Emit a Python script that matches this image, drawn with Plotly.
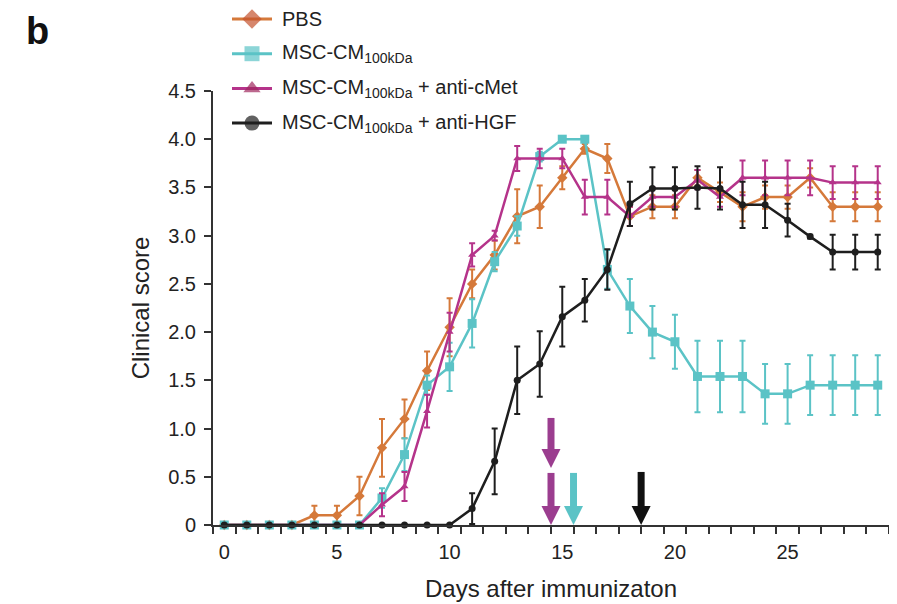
import plotly.graph_objects as go

days = list(range(30))

pbs = [0, 0, 0, 0, 0.1, 0.1, 0.3, 0.8, 1.1, 1.6, 2.05, 2.5, 2.8, 3.2, 3.3,
       3.6, 3.9, 3.8, 3.2, 3.3, 3.3, 3.6, 3.45, 3.3, 3.4, 3.4, 3.6, 3.3, 3.3, 3.3]
pbs_err = [0, 0, 0, 0, 0.1, 0.1, 0.2, 0.3, 0.2, 0.2, 0.3, 0.15, 0.15, 0.28, 0.22,
           0.12, 0.05, 0.15, 0.1, 0.12, 0.12, 0.08, 0.1, 0.15, 0.12, 0.12, 0.1, 0.15, 0.15, 0.15]

msc = [0, 0, 0, 0, 0, 0, 0, 0.28, 0.73, 1.45, 1.64, 2.09, 2.73, 3.1, 3.82,
       4.0, 4.0, 2.65, 2.27, 2.0, 1.9, 1.54, 1.54, 1.54, 1.36, 1.36, 1.45, 1.45, 1.45, 1.45]
msc_err = [0, 0, 0, 0, 0, 0, 0, 0.1, 0.17, 0.1, 0.25, 0.25, 0.1, 0.1, 0.05,
           0.02, 0.02, 0.2, 0.28, 0.27, 0.28, 0.37, 0.37, 0.37, 0.31, 0.31, 0.31, 0.31, 0.31, 0.31]

cmet = [0, 0, 0, 0, 0, 0, 0, 0.21, 0.4, 1.18, 2.0, 2.8, 3.0, 3.8, 3.8,
        3.8, 3.4, 3.4, 3.2, 3.4, 3.4, 3.58, 3.4, 3.6, 3.6, 3.6, 3.6, 3.55, 3.55, 3.55]
cmet_err = [0, 0, 0, 0, 0, 0, 0, 0.12, 0.15, 0.17, 0.2, 0.12, 0.05, 0.13, 0.1,
            0.1, 0.18, 0.18, 0.1, 0.1, 0.1, 0.1, 0.1, 0.18, 0.18, 0.18, 0.18, 0.17, 0.17, 0.17]

hgf = [0, 0, 0, 0, 0, 0, 0, 0, 0, 0, 0, 0.17, 0.66, 1.5, 1.67,
       2.16, 2.33, 2.65, 3.33, 3.49, 3.49, 3.5, 3.49, 3.32, 3.32, 3.16, 2.99, 2.83, 2.83, 2.83]
hgf_err = [0, 0, 0, 0, 0, 0, 0, 0, 0, 0, 0, 0.16, 0.34, 0.35, 0.34,
           0.31, 0.22, 0.21, 0.23, 0.22, 0.22, 0.22, 0.22, 0.24, 0.24, 0.17, 0.02, 0.18, 0.18, 0.18]

# treatment arrows: x position, top, tip, colour
arrow_x = [14.5, 14.5, 15.5, 18.5]
arrow_top = [1.11, 0.54, 0.54, 0.55]
arrow_tip = [0.59, 0.0, 0.0, 0.0]
arrow_col = ['#9B3D8F', '#9B3D8F', '#5BC3C6', '#111111']

names = ['PBS', 'MSC-CM<sub>100kDa</sub>', 'MSC-CM<sub>100kDa</sub> + anti-cMet',
         'MSC-CM<sub>100kDa</sub> + anti-HGF']
values = [pbs, msc, cmet, hgf]
errors = [pbs_err, msc_err, cmet_err, hgf_err]
line_cols = ['#D5793A', '#5BC3C6', '#B5338A', '#1E1E1E']
legend_marker_cols = ['#C4522E', '#5BC3C6', '#A0285E', '#1E1E1E']
symbols = ['diamond', 'square', 'triangle-up', 'circle']
sizes = [8, 9, 7, 7]
legend_rows = [0, 1, 2, 3]

fig = go.Figure()

for vals, err, col, sym, size in zip(values, errors, line_cols, symbols, sizes):
    fig.add_trace(go.Scatter(
        x=days, y=vals, mode='lines+markers', showlegend=False,
        line=dict(color=col, width=2.5),
        marker=dict(symbol=sym, size=size, color=col),
        error_y=dict(type='data', array=err, color=col, thickness=2, width=3),
        cliponaxis=False
    ))

for x, top, tip, col in zip(arrow_x, arrow_top, arrow_tip, arrow_col):
    fig.add_trace(go.Scatter(
        x=[x, x], y=[top, tip + 0.17], mode='lines', showlegend=False,
        line=dict(color=col, width=7), hoverinfo='skip', cliponaxis=False
    ))
    fig.add_trace(go.Scatter(
        x=[x], y=[tip], mode='markers', showlegend=False,
        marker=dict(symbol='arrow-down', size=19, color=col, line=dict(width=0)),
        hoverinfo='skip', cliponaxis=False
    ))

# legend drawn in its own small subplot at the top left
for row, name, col, mcol, sym in zip(legend_rows, names, line_cols, legend_marker_cols, symbols):
    fig.add_trace(go.Scatter(
        x=[0, 0.5, 1], y=[row, row, row], xaxis='x2', yaxis='y2',
        mode='lines+markers', showlegend=False, hoverinfo='skip', cliponaxis=False,
        line=dict(color=col, width=3),
        marker=dict(symbol=sym, size=[0, 15, 0], color=mcol, line=dict(width=0))
    ))
    fig.add_annotation(
        text=name, xref='paper', yref='y2', x=0.0991, y=row, xanchor='left', yanchor='middle',
        showarrow=False, font=dict(size=20, color='#222222')
    )

fig.add_annotation(
    text='<b>b</b>', xref='paper', yref='paper', x=-0.259, y=1.0,
    xanchor='center', yanchor='top',
    showarrow=False, font=dict(size=38, color='#111111')
)

fig.update_layout(
    width=897, height=604,
    margin=dict(l=205, r=16, t=0, b=87),
    paper_bgcolor='white', plot_bgcolor='white',
    font=dict(family='Liberation Sans, Arial, sans-serif', size=20, color='#222222'),
    showlegend=False,
    xaxis=dict(
        range=[-0.5, 29.5], showgrid=False, zeroline=False, automargin=False,
        showline=True, linecolor='#333333', linewidth=2,
        tickvals=[0, 5, 10, 15, 20, 25], ticktext=['0', '5', '10', '15', '20', '25'],
        ticks='', ticklabelstandoff=8,
        minor=dict(tickvals=[d - 0.5 for d in range(31)], ticks='outside',
                   ticklen=7, tickwidth=2, tickcolor='#333333'),
        title=dict(text='Days after immunizaton', standoff=18)
    ),
    yaxis=dict(
        domain=[0, 0.8395],
        range=[0, 4.5], showgrid=False, zeroline=False, automargin=False,
        showline=True, linecolor='#333333', linewidth=2,
        tickvals=[0, 0.5, 1, 1.5, 2, 2.5, 3, 3.5, 4, 4.5],
        ticktext=['0', '0.5', '1.0', '1.5', '2.0', '2.5', '3.0', '3.5', '4.0', '4.5'],
        ticks='outside', ticklen=7, tickwidth=2, tickcolor='#333333', ticklabelstandoff=4,
        title=dict(text='Clinical score', standoff=12)
    ),
    xaxis2=dict(domain=[0.0281, 0.0873], range=[0, 1], anchor='y2', visible=False),
    yaxis2=dict(domain=[0.6, 1], range=[5.643, -0.317], anchor='x2', visible=False)
)

fig.write_html('out.html')
